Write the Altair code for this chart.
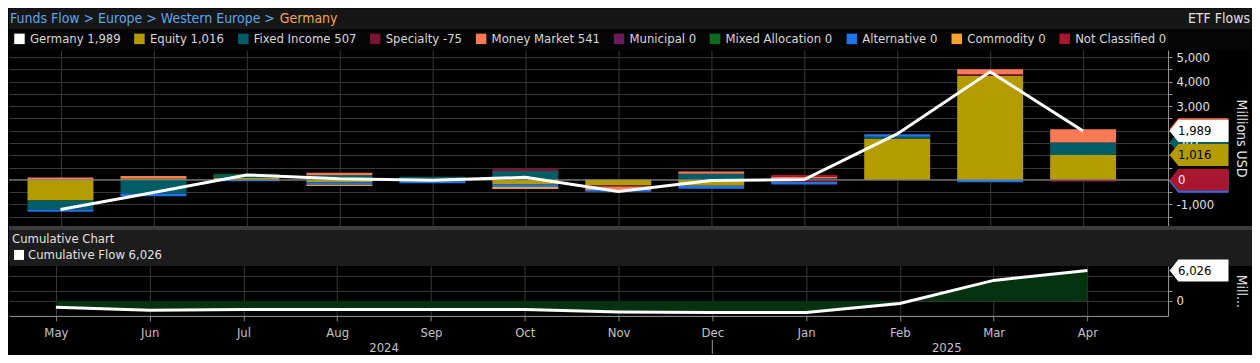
import altair as alt
import pandas as pd

# ---------------- data ----------------
months = ["May", "Jun", "Jul", "Aug", "Sep", "Oct", "Nov", "Dec", "Jan", "Feb", "Mar", "Apr"]
years = ["2024", "2025"]
year_centre = [3.5, 9.5]
year_break = [7]

categories = ["Equity", "Fixed Income", "Specialty", "Money Market", "Municipal",
              "Mixed Allocation", "Alternative", "Commodity", "Not Classified"]
cat_colors = ["#b39b00", "#005d66", "#7a1230", "#fa7a55", "#6b1b5e",
              "#0c6b1e", "#1f74e8", "#f6a22c", "#a8162f"]

germany        = [-1210, -520, 200, 40, -20, 100, -480, -30, 10, 1870, 4400, 1989]
equity         = [-840, 60, 80, -100, -40, -190, -230, -240, 0, 1680, 4240, 1016]
fixed_income   = [-370, -560, 130, 190, 130, 360, 0, 250, 60, 70, 0, 507]
specialty      = [0, 0, 0, 0, 0, 110, -40, 0, -90, 0, 65, -75]
money_market   = [90, 100, 0, 100, 0, 0, -140, 90, 60, 0, 195, 541]
municipal      = [0, 0, 0, 0, 0, 0, 0, 0, 0, 0, 0, 0]
mixed_alloc    = [0, 0, 40, 0, 0, 0, 0, 0, 0, 0, 0, 0]
alternative    = [-90, -110, -60, -100, -100, -100, -80, -120, -100, 110, -100, 0]
commodity      = [0, 0, 0, -50, 0, -80, 0, 0, 0, 0, 0, 0]
not_classified = [0, 0, 0, 0, 0, 0, 0, 0, 80, 0, 0, 0]

cumulative = [-1260, -1860, -1720, -1720, -1720, -1720, -2180, -2300, -2300, -520, 4070, 6026]

# value tags on the right axis (latest month), listed in drawing order;
# tags fully covered by later ones carry no text
tag_pos    = [2064, -75, -75, 0, 1523, 1016, 1989]
tag_text   = ["", "", "", "0", "507", "1,016", "1,989"]
tag_fill   = ["#fa7a55", "#7a1230", "#1f74e8", "#a8162f", "#005d66", "#b39b00", "#ffffff"]
tag_tcolor = ["#000000", "#ffffff", "#ffffff", "#ffffff", "#ffffff", "#000000", "#000000"]

# ---------------- layout ----------------
FONT = "Liberation Sans Narrow, DejaVu Sans Condensed, Roboto Condensed, Arial Narrow, sans-serif"
W = 1160
H1 = 176
H2 = 50
TW = 1244
XDOM = [-0.5, 11.86]
Y1DOM = [-1880, 5285]
Y2DOM = [-2973, 6937]
GRID = "#3a3a3a"
AXC = "#9a9a9a"

series = [equity, fixed_income, specialty, money_market, municipal,
          mixed_alloc, alternative, commodity, not_classified]
rows = []
for ci, (name, vals) in enumerate(zip(categories, series)):
    for i, v in enumerate(vals):
        if v != 0:
            rows.append({"idx": i, "category": name, "value": v, "ord": ci})
df_long = pd.DataFrame(rows)
df_germany = pd.DataFrame({"idx": list(range(12)), "value": germany})
df_cum = pd.DataFrame({"idx": list(range(12)), "cum": cumulative})
df_years = pd.DataFrame({"idx": year_centre, "year": years})
df_break = pd.DataFrame({"idx": year_break})
one = pd.DataFrame({"a": [0]})

legend_names = ["Germany"] + categories
legend_colors = ["#ffffff"] + cat_colors
legend_labels = [f"Germany {germany[-1]:,}"] + [f"{n} {s[-1]:,}" for n, s in zip(categories, series)]
legend_expr = ("[" + ",".join(f"'{l}'" for l in legend_labels) + "][indexof(["
               + ",".join(f"'{n}'" for n in legend_names) + "], datum.label)]")
month_expr = "[" + ",".join(f"'{m}'" for m in months) + "][datum.value]"

xs = alt.Scale(domain=XDOM, nice=False, zero=False)
y1s = alt.Scale(domain=Y1DOM, nice=False, zero=False)
y2s = alt.Scale(domain=Y2DOM, nice=False, zero=False)

TAG_PATH = "M-1,0 L-0.7,-0.373 L1,-0.373 L1,0.373 L-0.7,0.373 Z"


def rect(y0, y1, color):
    return alt.Chart(one).mark_rect(color=color, opacity=1).encode(
        x=alt.value(0), x2=alt.value(TW), y=alt.value(y0), y2=alt.value(y1))


def label(txt, x, y, color, size=13, align="left"):
    return alt.Chart(one).mark_text(text=txt, align=align, baseline="middle", font=FONT,
                                    fontSize=size, color=color).encode(
        x=alt.value(x), y=alt.value(y))


# ---------------- axes ----------------
top_x_axis = alt.Axis(values=list(range(12)), labels=False, ticks=False, domain=False,
                      grid=True, gridColor=GRID, title=None)
y1_axis = alt.Axis(orient="right", values=list(range(-1500, 5001, 500)),
                   labelExpr="datum.value % 1000 == 0 ? replace(format(datum.value, ','), '\u2212', '-') : ''",
                   grid=True, gridColor=GRID, domain=True, domainColor=AXC, tickColor=AXC,
                   tickSize=4, labelColor="#e0e0e0", labelFontSize=13, labelPadding=4,
                   title="Millions USD", titleColor="#e6e6e6", titleFontSize=14,
                   titleFontWeight="normal", titleAngle=90, titleX=72, titleY=H1 / 2,
                   titleAlign="center", titleBaseline="middle")
bottom_x_axis = alt.Axis(values=list(range(12)), labelExpr=month_expr, grid=True,
                         gridColor=GRID, domainColor=AXC, tickColor="#8a8a8a", tickSize=5,
                         labelPadding=6, labelColor="#c4c4c4", labelFontSize=13,
                         labelFlush=False, title=None)
y2_axis = alt.Axis(orient="right", values=[0, 2000, 5000],
                   labelExpr="datum.value == 0 ? '0' : ''",
                   grid=True, gridColor=GRID, domain=True, domainColor=AXC, tickColor=AXC,
                   tickSize=4, labelColor="#e0e0e0", labelFontSize=13, labelPadding=4,
                   title="Mill...", titleColor="#e6e6e6", titleFontSize=14,
                   titleFontWeight="normal", titleAngle=90, titleX=72, titleY=H2 / 2,
                   titleAlign="center", titleBaseline="middle")


def X1(field="idx:Q"):
    return alt.X(field, scale=xs, axis=top_x_axis)


def Y1(field):
    return alt.Y(field, scale=y1s, axis=y1_axis)


def X2(field="idx:Q"):
    return alt.X(field, scale=xs, axis=bottom_x_axis)


def Y2(field):
    return alt.Y(field, scale=y2s, axis=y2_axis)


def tag_layers(pos, text, fill, tcolor, yenc):
    d = pd.DataFrame({"pos": [pos], "text": [text]})
    shape = alt.Chart(d).mark_point(shape=TAG_PATH, size=3481, filled=True, opacity=1,
                                    strokeWidth=0, color=fill).encode(
        x=alt.value(W + 31), y=yenc("pos:Q"))
    layers = [shape]
    if text:
        layers.append(alt.Chart(d).mark_text(align="left", baseline="middle", font=FONT,
                                             fontSize=13, color=tcolor).encode(
            x=alt.value(W + 10), y=yenc("pos:Q"), text="text:N"))
    return layers


# ---------------- top panel ----------------
bars = alt.Chart(df_long).mark_bar(size=66).encode(
    x=X1(),
    y=alt.Y("value:Q", stack="zero", scale=y1s, axis=y1_axis),
    color=alt.Color("category:N",
                    scale=alt.Scale(domain=legend_names, range=legend_colors),
                    legend=alt.Legend(orient="none", legendX=4, legendY=-18,
                                      direction="horizontal", columns=10, title=None,
                                      symbolType="square", symbolSize=110,
                                      symbolStrokeWidth=0, symbolOpacity=1,
                                      labelColor="#d8d8d8", labelFont=FONT, labelFontSize=13,
                                      columnPadding=12, labelOffset=4, labelLimit=300,
                                      labelExpr=legend_expr, padding=0)),
    order=alt.Order("ord:Q", sort="ascending"),
)

zero_rule = alt.Chart(one).mark_rule(color="#8c8c8c", strokeWidth=1).encode(y=Y1("a:Q"))

g_line = alt.Chart(df_germany).mark_line(color="#ffffff", strokeWidth=3).encode(
    x=X1(), y=Y1("value:Q"))

top_tags = []
for p, t, f, c in zip(tag_pos, tag_text, tag_fill, tag_tcolor):
    top_tags += tag_layers(p, t, f, c, Y1)

top = alt.layer(
    rect(-42, -21, "#161616"),
    rect(-21, 0, "#050505"),
    label("Funds Flow > Europe > Western Europe >", 1, -31, "#5aa7ec", size=14),
    label("Germany", 271, -31, "#f5a55a", size=14),
    label("ETF Flows", TW - 2, -31, "#e0e0e0", size=14, align="right"),
    bars, zero_rule, g_line, *top_tags,
).properties(width=W, height=H1)

# ---------------- bottom (cumulative) panel ----------------
c_area = alt.Chart(df_cum).mark_area(color="#05330f", opacity=1).encode(
    x=X2(), y=Y2("cum:Q"), y2=alt.value(H2))
c_line = alt.Chart(df_cum).mark_line(color="#ffffff", strokeWidth=3).encode(
    x=X2(), y=Y2("cum:Q"))
c_tags = tag_layers(cumulative[-1], f"{cumulative[-1]:,}", "#ffffff", "#000000", Y2)
year_txt = alt.Chart(df_years).mark_text(baseline="middle", font=FONT, fontSize=13,
                                         color="#c4c4c4").encode(
    x=X2(), y=alt.value(H2 + 32), text="year:N")
year_rule = alt.Chart(df_break).mark_rule(color="#9a9a9a", strokeWidth=1).encode(
    x=X2(), y=alt.value(H2 + 24), y2=alt.value(H2 + 38))
c_square = alt.Chart(one).mark_square(size=100, color="#ffffff", opacity=1).encode(
    x=alt.value(10), y=alt.value(-11))

bottom = alt.layer(
    rect(-40, -36, "#3b3b3b"),
    rect(-36, 0, "#1c1c1c"),
    label("Cumulative Chart", 3, -27, "#e0e0e0"),
    c_square,
    label(f"Cumulative Flow {cumulative[-1]:,}", 19, -11, "#e0e0e0"),
    c_area, c_line, *c_tags, year_txt, year_rule,
).properties(width=W, height=H2)

chart = alt.vconcat(top, bottom, spacing=0, padding=0, background="#000000").configure_view(
    strokeWidth=0
).configure_axis(labelFont=FONT, titleFont=FONT)

chart.save("out.html", embed_options={"renderer": "svg", "actions": False})
